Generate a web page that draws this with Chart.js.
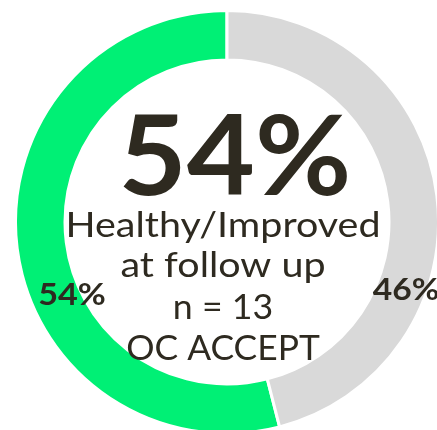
<!DOCTYPE html>
<html>
<head>
<meta charset="utf-8">
<script src="https://cdn.jsdelivr.net/npm/chart.js@4.4.1/dist/chart.umd.min.js"></script>
<style>
  html, body { margin: 0; padding: 0; background: #ffffff; overflow: hidden; }
  body { width: 437px; height: 430px; position: relative; }
  #wrap { position: absolute; left: 14px; top: 9px; width: 426px; height: 426px; }
</style>
</head>
<body>
<div id="wrap"><canvas id="c" width="426" height="426"></canvas></div>
<script>
const categories = ["Healthy/Improved", "Not improved"];
const values = [54, 46];
const sliceColors = ["#00F075", "#D9D9D9"];
const centerHeadline = "54%";
const centerLines = ["Healthy/Improved", "at follow up", "n = 13", "OC ACCEPT"];
const sliceLabels = ["54%", "46%"];

const textColor = "#2E2A20";
const fontFamily = "Lato, 'Open Sans', sans-serif";

const total = values.reduce((a, b) => a + b, 0);

function stretchedText(ctx, text, x, y, sx) {
  ctx.save();
  ctx.translate(x, y);
  ctx.scale(sx, 1);
  ctx.fillText(text, 0, 0);
  ctx.restore();
}

const textPlugin = {
  id: "centerText",
  afterDraw(chart) {
    const ctx = chart.ctx;
    const meta = chart.getDatasetMeta(0);
    const arc = meta.data[0];
    const cx = arc.x, cy = arc.y;
    ctx.save();
    ctx.fillStyle = textColor;
    ctx.textAlign = "center";
    ctx.textBaseline = "alphabetic";
    ctx.font = "bold 112px " + fontFamily;
    stretchedText(ctx, centerHeadline, cx + 8, cy - 27, 1.05);
    ctx.font = "34px " + fontFamily;
    const offs = [15, 55, 97, 138];
    const scales = [1.16, 1.16, 1.05, 1.04];
    centerLines.forEach((t, i) => stretchedText(ctx, t, cx - 4, cy + offs[i], scales[i]));
    ctx.font = "bold 30px " + fontFamily;
    stretchedText(ctx, sliceLabels[0], cx - 155, cy + 83, 1.14);
    stretchedText(ctx, sliceLabels[1], cx + 179, cy + 78, 1.12);
    ctx.restore();
  }
};

new Chart(document.getElementById("c"), {
  type: "doughnut",
  data: {
    labels: categories,
    datasets: [{
      data: values,
      backgroundColor: sliceColors,
      borderColor: "#ffffff",
      borderWidth: 3,
      hoverOffset: 0
    }]
  },
  options: {
    responsive: false,
    animation: false,
    cutout: "76.6%",
    rotation: -(values[0] / total) * 360,
    layout: { padding: 0 },
    plugins: {
      legend: { display: false },
      tooltip: { enabled: false }
    }
  },
  plugins: [textPlugin]
});
</script>
</body>
</html>
